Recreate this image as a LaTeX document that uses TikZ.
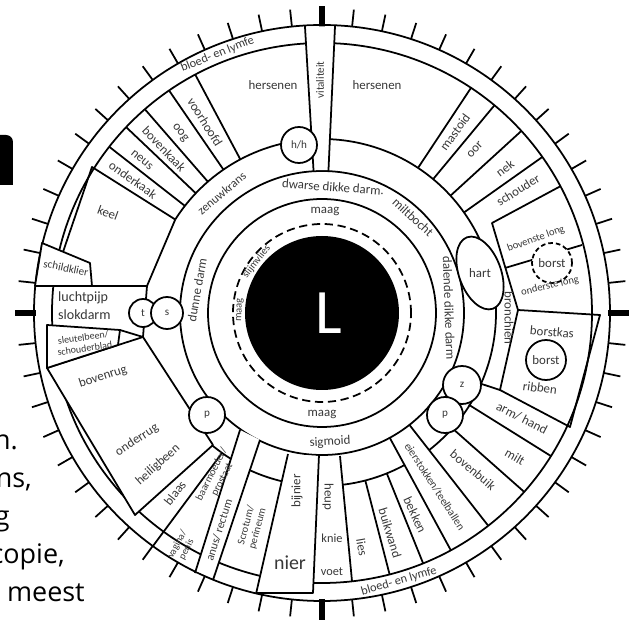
\documentclass[tikz,border=0pt]{standalone}
\usepackage{fontspec}
\setmainfont{Carlito}
\newfontfamily\pagefont{Open Sans}
\usepackage{tikz}
\usetikzlibrary{calc}

\begin{document}
\begin{tikzpicture}[x=0.3mm, y=0.3mm,
    ln/.style={line width=1.5pt, line join=round},
    lbl/.style={font=\fontsize{11}{12}\selectfont, text=black!78, inner sep=0pt, align=center},
    smalllbl/.style={lbl, font=\fontsize{9}{10}\selectfont},
    spot/.style={circle, draw, line width=1.5pt, fill=white, inner sep=0pt, font=\fontsize{9.5}{10}\selectfont, text=black!78},
    pagetext/.style={font=\pagefont\fontsize{23}{26}\selectfont, anchor=base east, inner sep=0pt}
]
\useasboundingbox (-322,-308) rectangle (312,313);
\clip (-322,-308) rectangle (312,313);

\fill (-330,128) -- (-330,178) -- (-316,178) arc[start angle=90, end angle=0, radius=7] -- (-309,128) -- cycle;
\node[pagetext] (line1) at (-304,-137) {n.};
\node[pagetext] (line2) at (-290,-175) {ns,};
\node[pagetext] (line3) at (-312,-213) {g};
\node[pagetext] (line4) at (-257,-251) {copie,};
\node[pagetext] (line5) at (-237,-289) {t meest};

\foreach \a in {0,6,...,354}
    \draw[line width=1.5pt] (\a:288) -- (\a:305);
\foreach \a in {0,90,180,270}
    \draw[line width=4.5pt] (\a:286) -- (\a:307);

\draw[ln] (0,0) circle[radius=288];
\draw[ln] (0,0) circle[radius=270];
\draw[ln] (0,0) circle[radius=142];
\draw[ln] (0,0) circle[radius=114];
\draw[ln, dash pattern=on 7pt off 4pt] (0,0) circle[radius=89];
\node[circle, fill=black, minimum size=46.2mm, inner sep=0pt] (pupil) at (0,0) {};
\node[text=white, font=\fontsize{54}{54}\selectfont, inner sep=0pt] (eye) at (7,0) {L};

\fill[white] (87.4:143) -- (87.4:287) -- (93.4:287) -- (93.4:143) -- cycle;
\draw[ln] (87.4:142) -- (87.4:288) (93.4:142) -- (93.4:288);
\draw[ln, fill=white] (-280,70) -- (-232,50) -- (-230,27) -- (-287,27) -- cycle;
\draw[ln, fill=white] (-275,-55) -- (-179,-24) -- (-109,-132) -- (-187,-202) -- cycle;
\draw[ln, fill=white] (-275,-12) -- (-202,-17) -- (-204,-32) -- (-275,-55) -- cycle;
\fill[white] (-82,-117) -- (-126,-258) -- (-108,-265) -- (-62,-127) -- cycle;
\draw[ln] (-82,-117) -- (-127,-260) (-62,-127) -- (-109,-267);
\fill[white] (-34,-141) -- (-66,-279) -- (-9,-279) -- (-3,-143) -- cycle;
\draw[ln] (-34,-141) -- (-66,-281) (-3,-142) -- (-9,-280) -- (-66,-280);

\draw[ln] (97:174) arc[start angle=97, end angle=147.5, radius=174];
\draw[ln] (-129.5:172) arc[start angle=-129.5, end angle=-122, radius=172];
\draw[ln] (-114.5:173) arc[start angle=-114.5, end angle=-103.4, radius=173];
\draw[ln] (-83.1:173) arc[start angle=-83.1, end angle=-61.5, radius=173];
\draw[ln] (-52:174) arc[start angle=-52, end angle=87.4, radius=174];

\foreach \a in {118,124.5,131,136.5,142}
    \draw[ln] (\a:174) -- (\a:270);
\foreach \a in {56.5,50.3,42.4,35.3}
    \draw[ln] (\a:174) -- (\a:270);
\foreach \a in {-75.5,-68,-41.5,-32}
    \draw[ln] (\a:173) -- (\a:270);
\foreach \a in {-61.5,-52}
    \draw[ln] (\a:142) -- (\a:270);
\draw[ln] (18,-143) -- (30,-268);
\draw[ln] (-100,-140) -- (-169,-233);
\draw[ln] (-24:174) -- (178,-77);

\draw[ln] (147.5:174) -- (-230,146) -- (-259,61);
\draw[ln] (147.5:174) -- (-175,27) -- (-230,27);
\draw[ln] (-175,27) -- (-179,-24);
\draw[ln] (-202,-17) -- (-179,-24);

\draw[ln] (28:270) -- (170,90) -- (196,3);
\draw[ln] (196,3) -- (278,-2) -- (248,-114) -- (178,-77) -- cycle;
\draw[ln] (183,45) -- (260,68);

\draw[ln, fill=white, rotate around={110:(158,40)}] (158,40) ellipse[x radius=38, y radius=21];
\node[lbl] (heart) at (158,40) {hart};

\node[spot, minimum size=10.8mm] (hh) at (-23,168) {h/h};
\node[spot, minimum size=8.4mm] (t) at (-179,0) {t};
\node[spot, minimum size=9.6mm] (s) at (-155,0) {s};
\node[spot, minimum size=10.8mm] (pleft) at (-115,-102) {p};
\node[spot, minimum size=11.4mm] (z) at (140,-72) {z};
\node[spot, minimum size=10.8mm] (pright) at (123,-102) {p};
\node[spot, minimum size=12mm, font=\fontsize{11}{12}\selectfont] (breast) at (224,-47) {borst};
\node[spot, dash pattern=on 4pt off 2.5pt, minimum size=12mm, font=\fontsize{11}{12}\selectfont] (breastlung) at (230,50) {borst};

\node[lbl, rotate=90, font=\fontsize{9.5}{10}\selectfont] (vital) at (-2,233) {vitaliteit};
\node[lbl] (brainl) at (-49,228) {hersenen};
\node[lbl] (brainr) at (55,228) {hersenen};
\node[lbl, rotate=-58] (forehead) at (-117,191) {voorhoofd};
\node[lbl, rotate=-52] (eyezone) at (-142,180) {oog};
\node[lbl, rotate=-46] (upperjaw) at (-158,164) {bovenkaak};
\node[lbl, rotate=-40] (nose) at (-180,153) {neus};
\node[lbl, rotate=-35] (lowerjaw) at (-189,133) {onderkaak};
\node[lbl, rotate=-20] (throat) at (-214,100) {keel};
\node[lbl, rotate=-12, font=\fontsize{9.5}{10}\selectfont] (thyroid) at (-256,45) {schildklier};
\node[lbl, font=\fontsize{12}{13}\selectfont, anchor=west] (trachea) at (-264,15) {luchtpijp};
\node[lbl, font=\fontsize{12}{13}\selectfont, anchor=west] (gullet) at (-264,-2) {slokdarm};
\node[lbl, rotate=8, font=\fontsize{8.5}{9.5}\selectfont] (collar) at (-238,-30) {sleutelbeen/\\schouderblad};
\node[lbl, rotate=18] (upperback) at (-219,-64) {bovenrug};
\node[lbl, rotate=33] (lowerback) at (-185,-127) {onderrug};
\node[lbl, rotate=42] (sacrum) at (-164,-152) {heiligbeen};
\node[lbl, rotate=52] (bladder) at (-147,-180) {blaas};
\node[smalllbl, rotate=63] (uterus) at (-105,-164) {baarmoeder/\\prostaat};
\node[smalllbl, rotate=62, font=\fontsize{8.5}{9}\selectfont] (genital) at (-140,-234) {vagina/\\penis};
\node[lbl, rotate=72, font=\fontsize{10}{11}\selectfont] (rectum) at (-103,-217) {anus/ rectum};
\node[smalllbl, rotate=75] (perineum) at (-70,-214) {Scrotum/\\perineum};
\node[lbl, rotate=90] (adrenal) at (-25,-178) {bijnier};
\node[lbl, font=\fontsize{17}{18}\selectfont] (kidney) at (-32,-250) {nier};
\node[lbl, rotate=-90] (hip) at (6,-184) {heup};
\node[lbl, font=\fontsize{10.5}{11}\selectfont] (knee) at (10,-225) {knie};
\node[lbl, font=\fontsize{10.5}{11}\selectfont] (foot) at (10,-259) {voet};
\node[lbl, rotate=-80] (groin) at (40,-234) {lies};
\node[lbl, rotate=-73] (abwall) at (68,-220) {buikwand};
\node[lbl, rotate=-65] (pelvis) at (93,-202) {bekken};
\node[lbl, rotate=-57, font=\fontsize{9.5}{10}\selectfont] (gonads) at (-57:207) {eierstokken/teelballen};
\node[lbl, rotate=-40] (upperbelly) at (151,-157) {bovenbuik};
\node[lbl, rotate=-30] (spleen) at (193,-144) {milt};
\node[lbl, rotate=-27] (arm) at (200,-105) {arm/ hand};
\node[lbl, rotate=-5] (chest) at (230,-19) {borstkas};
\node[lbl, rotate=-8] (ribs) at (218,-75) {ribben};
\node[lbl, rotate=-90] (bronchi) at (187,-5) {bronchiën};
\node[smalllbl, rotate=20] (toplung) at (214,74) {bovenste long};
\node[smalllbl, rotate=13] (lowlung) at (228,27) {onderste long};
\node[lbl, rotate=32] (shoulder) at (196,123) {schouder};
\node[lbl, rotate=38] (neck) at (183,145) {nek};
\node[lbl, rotate=47] (ear) at (153,163) {oor};
\node[lbl, rotate=54] (mastoid) at (133,181) {mastoid};

\node[lbl, rotate=-4] (transverse) at (11,126) {dwarse dikke darm.};
\node[lbl] (stomachtop) at (3,102) {maag};
\node[lbl] (stomachbot) at (0,-101) {maag};
\node[lbl, rotate=3] (sigmoid) at (8,-129) {sigmoid};
\node[lbl, rotate=-43] (splenic) at (91,96) {miltbocht};
\node[lbl, rotate=-88] (descending) at (127,5) {dalende dikke darm};
\node[lbl, rotate=80] (smallgut) at (-125,23) {dunne darm};
\node[lbl, rotate=40, font=\fontsize{10.5}{11}\selectfont] (nervering) at (130:156) {zenuwkrans};
\node[smalllbl, rotate=88] (stomachin) at (-82,3) {maag};
\node[smalllbl, rotate=52] (mucosa) at (142:83) {slijmvlies};

\node[lbl, rotate=22, font=\fontsize{10.5}{11}\selectfont] (bloodtop) at (112:279) {bloed- en lymfe};
\node[lbl, rotate=16, font=\fontsize{10.5}{11}\selectfont] (bloodbot) at (-74:279) {bloed- en lymfe};
\end{tikzpicture}
\end{document}
